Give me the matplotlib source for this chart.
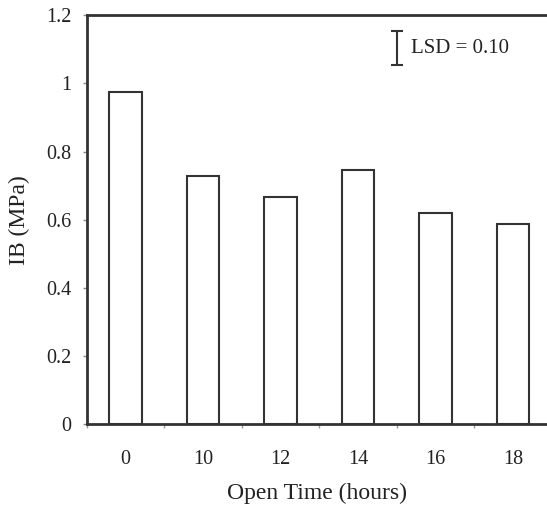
import numpy as np
import matplotlib.pyplot as plt

# open time categories and internal bond strength
open_time = ['0', '10', '12', '14', '16', '18']
ib_mpa = [0.975, 0.728, 0.667, 0.747, 0.619, 0.588]
lsd = 0.10

plt.rcParams['font.family'] = 'Liberation Serif'
edge = '#333333'

fig = plt.figure(figsize=(5.47, 5.09), dpi=100)
ax = fig.add_axes([0.159, 0.167, 0.841, 0.803])

x = np.arange(len(open_time))
ax.bar(x, ib_mpa, width=0.42, color='white', edgecolor=edge, linewidth=1.5, zorder=2)

# LSD marker
ax.errorbar(3.5, 1.103, yerr=lsd / 2, color=edge, capsize=4.5, elinewidth=1.5, capthick=1.5)
ax.text(3.69, 1.103, 'LSD = 0.10', fontsize=15, va='center', ha='left', color='#222222')

ax.set_xlim(-0.5, 5.44)
ax.set_ylim(0, 1.2)
ax.set_yticks(np.arange(0, 1.21, 0.2))
ax.set_yticklabels(['0', '0.2', '0.4', '0.6', '0.8', '1', '1.2'])
ax.set_xticks(x)
ax.set_xticklabels(open_time)
ax.set_xticks(np.arange(-0.5, 5.5, 1), minor=True)

ax.tick_params(axis='y', direction='out', length=3, width=1, color='#888888', pad=8,
               labelsize=14.5, labelcolor='#222222')
ax.tick_params(axis='x', which='major', length=0, pad=19, labelsize=14.5, labelcolor='#222222')
ax.tick_params(axis='x', which='minor', direction='out', length=3, width=1, color='#999999')

for side in ['left', 'bottom', 'top']:
    ax.spines[side].set_linewidth(2)
    ax.spines[side].set_color(edge)
ax.spines['right'].set_visible(False)

ax.set_xlabel('Open Time (hours)', fontsize=17, color='#222222', labelpad=10)
ax.set_ylabel('IB (MPa)', fontsize=17, color='#222222', labelpad=12)

fig.savefig('out.png', dpi=100)
